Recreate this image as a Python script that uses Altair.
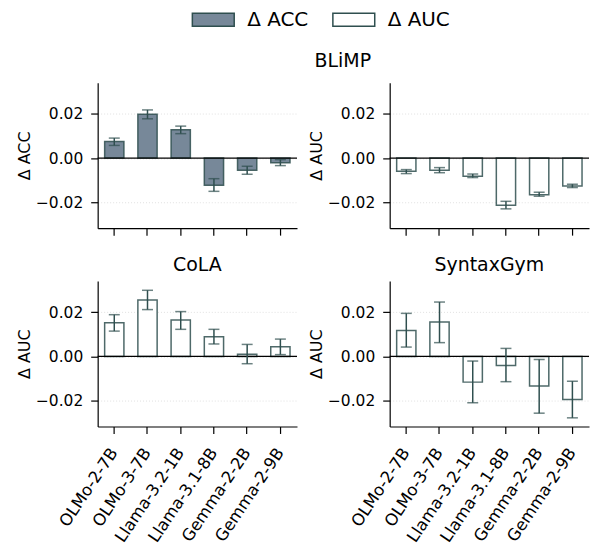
import altair as alt
import pandas as pd

models = ["OLMo-2-7B", "OLMo-3-7B", "Llama-3.2-1B", "Llama-3.1-8B", "Gemma-2-2B", "Gemma-2-9B"]

blimp_acc = [0.0075, 0.0198, 0.0128, -0.0123, -0.0055, -0.0021]
blimp_acc_lo = [0.0057, 0.0177, 0.0110, -0.0150, -0.0073, -0.0034]
blimp_acc_hi = [0.0090, 0.0217, 0.0144, -0.0093, -0.0037, -0.0007]

blimp_auc = [-0.0060, -0.0055, -0.0082, -0.0213, -0.0165, -0.0126]
blimp_auc_lo = [-0.0070, -0.0066, -0.0088, -0.0229, -0.0172, -0.0133]
blimp_auc_hi = [-0.0052, -0.0043, -0.0072, -0.0195, -0.0154, -0.0118]

cola_auc = [0.0152, 0.0254, 0.0164, 0.0089, 0.0010, 0.0044]
cola_auc_lo = [0.0114, 0.0211, 0.0122, 0.0056, -0.0033, 0.0008]
cola_auc_hi = [0.0188, 0.0298, 0.0202, 0.0122, 0.0054, 0.0078]

sg_auc = [0.0117, 0.0155, -0.0116, -0.0041, -0.0134, -0.0194]
sg_auc_lo = [0.0042, 0.0062, -0.0209, -0.0114, -0.0256, -0.0277]
sg_auc_hi = [0.0194, 0.0245, -0.0021, 0.0036, -0.0014, -0.0112]

metrics = ["Δ ACC", "Δ AUC"]
fills = ["#778899", "#ffffff"]
EDGE = "#2f4f4f"
FONT = "DejaVu Sans"
W, H = 200, 146
YDOM = [-0.0316, 0.034]


def panel(vals, lo, hi, metric, ytitle, show_labels, title=None):
    df = pd.DataFrame({"model": models, "value": vals, "lo": lo, "hi": hi,
                       "metric": [metric] * len(models)})
    base = alt.Chart(df)
    x = alt.X("model:N", sort=models, title=None,
              scale=alt.Scale(paddingInner=0.42, paddingOuter=0.21),
              axis=alt.Axis(labels=show_labels, labelAngle=-56, labelAlign="right",
                            labelBaseline="middle", labelFontSize=16.5,
                            labelPadding=16, grid=False))
    y = alt.Y("value:Q", title=ytitle,
              scale=alt.Scale(domain=YDOM, nice=False, zero=False),
              axis=alt.Axis(values=[-0.02, 0, 0.02], format=".2f", grid=True,
                            labelPadding=8, titlePadding=3,
                            gridDash=[1, 2], gridColor="#d9d9d9", gridWidth=0.8))
    bars = base.mark_bar(stroke=EDGE, strokeWidth=1.5, strokeOpacity=0.85).encode(
        x=x, y=y,
        fill=alt.Fill("metric:N", scale=alt.Scale(domain=metrics, range=fills),
                      legend=alt.Legend(orient="none", legendX=94, legendY=-85,
                                        direction="horizontal", title=None,
                                        symbolType="M-1,-0.31H1V0.31H-1Z",
                                        symbolSize=1764, symbolStrokeColor=EDGE,
                                        symbolStrokeWidth=1.5, symbolOpacity=1,
                                        labelFont=FONT, labelFontSize=20,
                                        labelColor="black", labelOffset=12,
                                        columnPadding=21)),
    )
    zero = alt.Chart(pd.DataFrame({"z": [0]})).mark_rule(color="black", strokeWidth=1.3).encode(
        y=alt.Y("z:Q", scale=alt.Scale(domain=YDOM, nice=False, zero=False)))
    rule = base.mark_rule(color=EDGE, strokeWidth=1.5).encode(
        x=alt.X("model:N", sort=models), y="lo:Q", y2="hi:Q")
    cap_lo = base.mark_tick(color=EDGE, size=11, thickness=1.5).encode(
        x=alt.X("model:N", sort=models), y="lo:Q")
    cap_hi = base.mark_tick(color=EDGE, size=11, thickness=1.5).encode(
        x=alt.X("model:N", sort=models), y="hi:Q")
    ch = alt.layer(bars, zero, rule, cap_lo, cap_hi).properties(width=W, height=H)
    if title is not None:
        ch = ch.properties(title=title)
    return ch


tl = panel(blimp_acc, blimp_acc_lo, blimp_acc_hi, "Δ ACC", "Δ ACC", False,
           alt.TitleParams("BLiMP", anchor="middle", dx=146, offset=12))
tr = panel(blimp_auc, blimp_auc_lo, blimp_auc_hi, "Δ AUC", "Δ AUC", False)
bl = panel(cola_auc, cola_auc_lo, cola_auc_hi, "Δ AUC", "Δ AUC", True,
           alt.TitleParams("CoLA", anchor="middle", offset=6))
br = panel(sg_auc, sg_auc_lo, sg_auc_hi, "Δ AUC", "Δ AUC", True,
           alt.TitleParams("SyntaxGym", anchor="middle", offset=6))

chart = alt.concat(tl, tr, bl, br, columns=2, spacing={"row": 53, "column": 93},
                   bounds="flush").properties(
    padding={"left": 16, "top": -3, "right": 2, "bottom": 2}
).configure_view(stroke=None).configure_axis(
    domainColor="black", domainWidth=1.2, tickColor="black", tickWidth=1.2, tickSize=7,
    labelFont=FONT, labelFontSize=15.5, labelColor="black",
    titleFont=FONT, titleFontSize=16, titleFontWeight="normal", titleColor="black"
).configure_title(font=FONT, fontSize=19, fontWeight="normal", color="black")

chart.save("out.html", embed_options={"renderer": "svg", "actions": False})
